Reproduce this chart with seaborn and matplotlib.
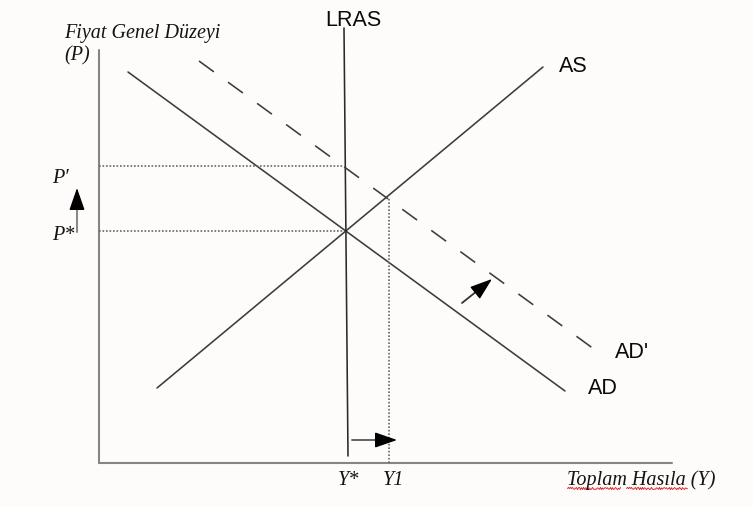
"""
AD-AS diagram: aggregate demand shift (AD -> AD') with LRAS.
Saves out.png.
"""

import matplotlib
matplotlib.use("Agg")
import matplotlib.pyplot as plt
import seaborn as sns

W, H = 753, 507

# curve end points (quantity, price) in chart units
AD_Q = [128, 565]
AD_P = [435, 116]
AD2_Q = [199, 598]
AD2_P = [446, 155]
AS_Q = [157, 543]
AS_P = [119, 440]
LRAS_Q = [344, 348]
LRAS_P = [479, 51]

# equilibrium levels
P_STAR = 276
P_PRIME = 341
Y_STAR = 344
Y_ONE = 389
P_ONE = 309

# axes of the diagram
Q_AXIS = [99, 672]
P_AXIS = [44, 457]
ORIGIN_P = 44

CURVE_LABELS = ["LRAS", "AS", "AD'", "AD"]
CURVE_LABEL_POS = [(325, 486), (559, 440), (615, 154), (588, 119)]

SERIF = ["Liberation Serif", "DejaVu Serif"]
SANS = ["Liberation Sans", "DejaVu Sans"]


def line(ax, x, y, **kw):
    sns.lineplot(x=x, y=y, ax=ax, estimator=None, sort=False, **kw)


def main():
    sns.set_theme(style="white")
    bg = "#fdfcfb"
    fig = plt.figure(figsize=(W / 100, H / 100), dpi=100, facecolor=bg)
    ax = fig.add_axes([0, 0, 1, 1])
    ax.set_facecolor(bg)
    ax.set_xlim(0, W)
    ax.set_ylim(0, H)
    ax.axis("off")

    axis_col = "#858585"
    line_col = "#3c3c3c"

    # axes
    line(ax, [Q_AXIS[0]] * 2, P_AXIS, color=axis_col, lw=1.5)
    line(ax, Q_AXIS, [ORIGIN_P] * 2, color=axis_col, lw=1.5)

    # curves
    line(ax, AD_Q, AD_P, color=line_col, lw=1.15)
    line(ax, AS_Q, AS_P, color=line_col, lw=1.15)
    line(ax, LRAS_Q, LRAS_P, color="#2a2a2a", lw=1.15)
    ax.plot(AD2_Q, AD2_P, color=line_col, lw=1.15, dashes=(11.5, 11))

    # dotted guides
    dot = dict(color="#666666", lw=1.2, ls=(0, (1, 1.1)))
    ax.plot([Q_AXIS[0], Y_STAR], [P_PRIME, P_PRIME], **dot)
    ax.plot([Q_AXIS[0], Y_STAR], [P_STAR, P_STAR], **dot)
    ax.plot([Y_ONE, Y_ONE], [ORIGIN_P, P_ONE], **dot)

    # arrows: grey shaft, black head
    head = dict(arrowstyle="-|>,head_length=1.15,head_width=0.4", color="black",
                lw=1.0, shrinkA=0, shrinkB=0)
    ax.plot([77, 77], [275, 305], color="#8a8a8a", lw=1.5)
    ax.annotate("", xy=(77, 319), xytext=(77, 304), arrowprops=head)
    ax.plot([352, 384], [67, 67], color="#555555", lw=1.3)
    ax.annotate("", xy=(397, 67), xytext=(383, 67), arrowprops=head)
    ax.plot([462, 482], [204, 220], color="#333333", lw=1.3)
    ax.annotate("", xy=(492, 228), xytext=(481, 219), arrowprops=head)

    # curve labels
    for lab, (x, y) in zip(CURVE_LABELS, CURVE_LABEL_POS):
        ax.text(x, y, lab, family=SANS, fontsize=15.5, color="#0a0a0a", ha="left", va="center")

    # axis titles and tick labels
    it = dict(family=SERIF, style="italic", color="#141414", fontsize=14.5,
              ha="left", va="baseline")
    ax.text(64, 469, "Fiyat Genel Düzeyi", **it)
    ax.text(64, 447, "(P)", **it)
    ax.text(52, 324, "P′", **it)
    ax.text(52, 267, "P*", **it)
    ax.text(338, 22, "Y*", **it)
    ax.text(383, 22, "Y1", **it)
    ax.text(567, 22, "Toplam Hasıla (Y)", **it)

    # spell-check squiggles under the axis title
    for x0, x1 in [(567, 620), (626, 687)]:
        sq = ax.plot([x0, x1], [19, 19], color="#e03030", lw=0.7)[0]
        sq.set_sketch_params(scale=1.2, length=2.5, randomness=0.5)

    fig.savefig("out.png", dpi=100, facecolor=bg)
    plt.close(fig)


if __name__ == "__main__":
    main()
